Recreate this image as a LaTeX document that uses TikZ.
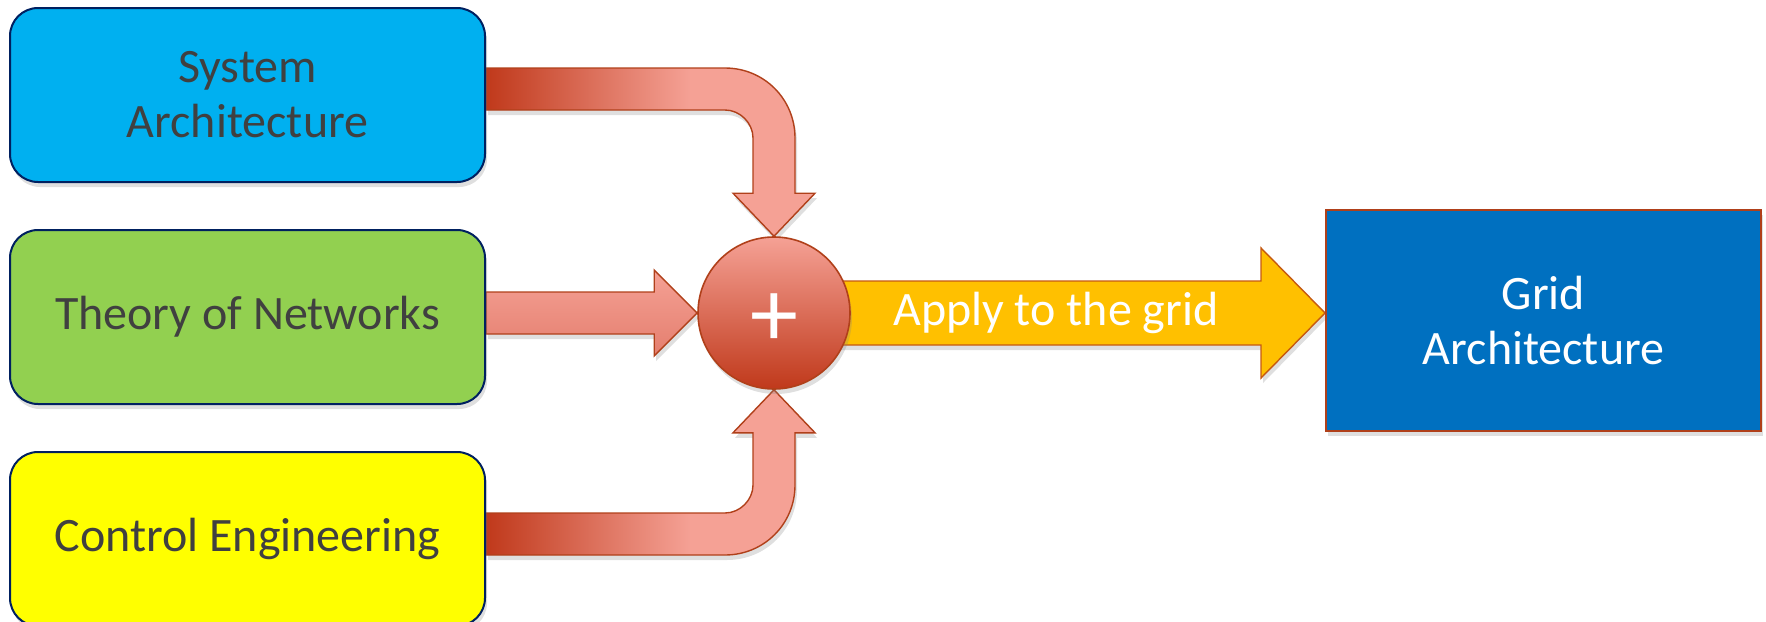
\documentclass[tikz,border=0pt]{standalone}
\usepackage{fontspec}
\setmainfont{Carlito}
\usepackage{tikz}
\usetikzlibrary{
  positioning,
  calc,
  shadows
}

\definecolor{topicblue}{HTML}{00B0F0}
\definecolor{topicgreen}{HTML}{92D050}
\definecolor{topicyellow}{HTML}{FFFF00}
\definecolor{gridblue}{HTML}{0070C0}
\definecolor{boxedge}{HTML}{002060}
\definecolor{flowdark}{HTML}{C0391B}
\definecolor{flowmid}{HTML}{E47E6E}
\definecolor{flowlight}{HTML}{F5A195}
\definecolor{flowedge}{HTML}{B0401A}
\definecolor{applyfill}{HTML}{FFC000}
\definecolor{applyedge}{HTML}{C55A11}
\definecolor{textgray}{HTML}{404040}

\pgfdeclarehorizontalshading{bendflow}{100bp}{color(0bp)=(flowdark); color(25bp)=(flowdark); color(56bp)=(flowlight); color(100bp)=(flowlight)}
\pgfdeclarelayer{bg}
\pgfsetlayers{bg,main}

\begin{document}
\begin{tikzpicture}[
      x=0.5pt, y=-0.5pt,
      node distance=23pt,
      softshadow/.style={drop shadow={opacity=0.25, shadow xshift=1pt, shadow yshift=-2.5pt}},
      topic/.style={draw=boxedge, line width=1pt, rounded corners=14pt, minimum width=237.5pt, minimum height=87pt, align=center, text=textgray, font=\fontsize{24}{27.5}\selectfont, softshadow},
      sumnode/.style={circle, draw=flowedge, line width=0.8pt, top color=flowlight, bottom color=flowdark, minimum size=76pt, inner sep=0pt, text=white, font=\fontsize{48}{48}\selectfont, softshadow},
      result/.style={draw=flowedge, line width=1pt, fill=gridblue, minimum width=217.5pt, minimum height=110.5pt, align=center, text=white, font=\fontsize{24}{27.5}\selectfont, softshadow},
      flow/.style={draw=flowedge, line width=0.7pt, softshadow},
      apply/.style={draw=applyedge, line width=0.7pt, fill=applyfill, softshadow},
      applytext/.style={text=white, font=\fontsize{24}{27.5}\selectfont, inner sep=0pt}
  ]
      \useasboundingbox (0,0) rectangle (1766,621);

      % Disciplines
      \node[topic, fill=topicblue] (sysarch) at (247.5,95) {System\\Architecture};
      \node[topic, fill=topicgreen, below=of sysarch] (theory) {Theory of Networks};
      \node[topic, fill=topicyellow, below=of theory] (control) {Control Engineering};

      % Combination and result
      \node[sumnode] (sum) at (774,313) {\raisebox{-3.5pt}[\height][\depth]{+}};
      \node[result] (grid) at (1543.5,320.5) {Grid\\Architecture};
      \node[applytext, right=21pt of sum] (applylbl) {Apply to the grid};

      \coordinate (topturn) at (sysarch.east -| sum.north);
      \coordinate (botturn) at (control.east -| sum.south);

      \begin{pgfonlayer}{bg}
      \path[flow, shade, shading=bendflow]
        ($(sysarch.east)+(0,-27)$) -- ($(topturn)+(-49,-27)$)
        .. controls +(39,0) and +(0,-39) .. ($(topturn)+(21,43)$)
        -- ($(sum.north)+(21,-43)$) -- ++(20,0) -- (sum.north) -- ++(-41,-43) -- ++(20,0)
        -- ($(topturn)+(-21,43)$)
        .. controls +(0,-15) and +(15,0) .. ($(topturn)+(-49,15)$)
        -- ($(sysarch.east)+(0,15)$) -- cycle;

      \path[flow, top color=flowlight, bottom color=flowmid]
        ($(theory.east |- sum.west)+(0,-21)$) -- ($(sum.west)+(-43,-21)$) -- ++(0,-22)
        -- (sum.west) -- ++(-43,43) -- ++(0,-22)
        -- ($(theory.east |- sum.west)+(0,21)$) -- cycle;

      \path[flow, shade, shading=bendflow]
        ($(control.east)+(0,-26)$) -- ($(botturn)+(-49,-26)$)
        .. controls +(15,0) and +(0,15) .. ($(botturn)+(-21,-54)$)
        -- ($(sum.south)+(-21,43)$) -- ++(-20,0) -- (sum.south) -- ++(41,43) -- ++(-20,0)
        -- ($(botturn)+(21,-54)$)
        .. controls +(0,39) and +(39,0) .. ($(botturn)+(-49,16)$)
        -- ($(control.east)+(0,16)$) -- cycle;

      % Towards the grid
      \path[apply]
        ($(sum.center)+(0,-32)$) -- ($(grid.west |- sum.center)+(-64,-32)$) -- ++(0,-33)
        -- (grid.west |- sum.center) -- ++(-64,65) -- ++(0,-33)
        -- ($(sum.center)+(0,32)$) -- cycle;
      \end{pgfonlayer}

  \end{tikzpicture}
\end{document}
